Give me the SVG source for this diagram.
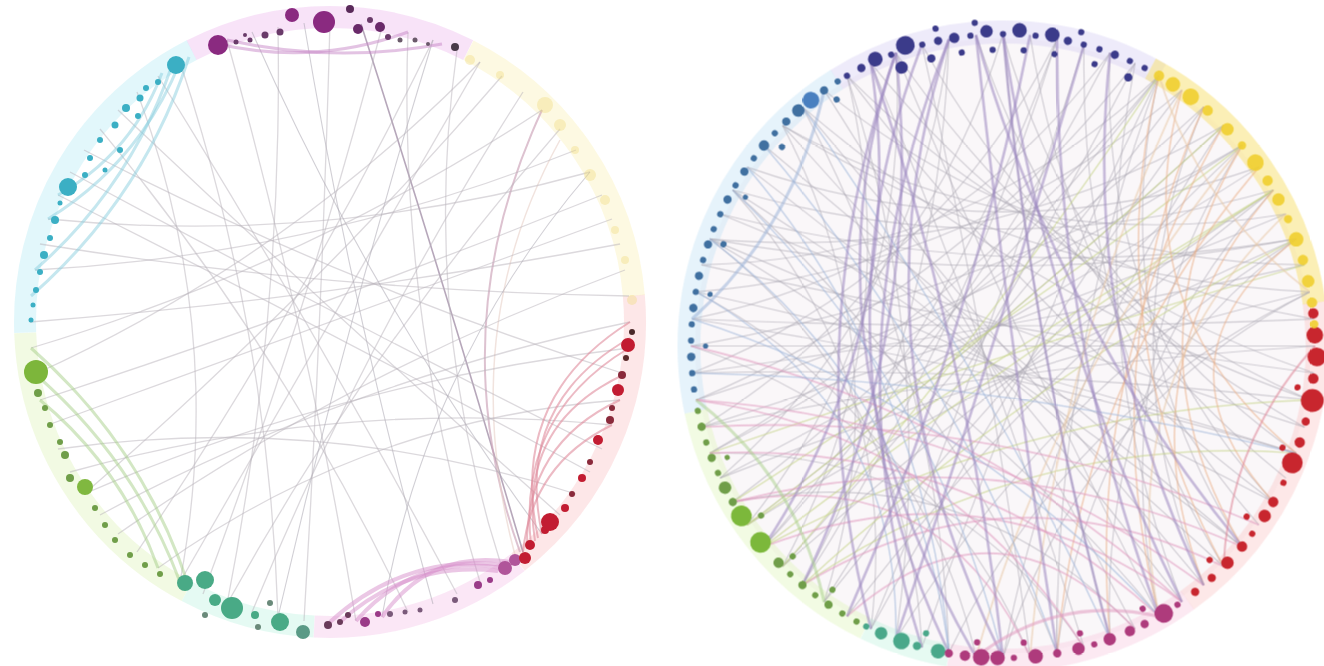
<svg xmlns="http://www.w3.org/2000/svg" width="1324" height="666" viewBox="0 0 1324 666">
<defs>
<style>
.h{fill:none;stroke-width:22;opacity:.32}
.e{fill:none;stroke:#aca7b2;stroke-width:1.1;opacity:.55}
.el{fill:none;stroke:#b9b4bc;stroke-width:1.3;opacity:.5}
.ep{fill:none;stroke:#9a86bf;stroke-width:2.6;opacity:.55}
.eg{fill:none;stroke:#c6d48a;stroke-width:1.4;opacity:.6}
.eo{fill:none;stroke:#eab08a;stroke-width:1.6;opacity:.55}
.ek{fill:none;stroke:#e09ac0;stroke-width:1.8;opacity:.55}
.eb{fill:none;stroke:#9db4d8;stroke-width:1.5;opacity:.55}
.er{fill:none;stroke:#e08c9c;stroke-width:2;opacity:.6}
.epk{fill:none;stroke:#d890cc;stroke-width:4;opacity:.5}
.ec{fill:none;stroke:#8ccfe0;stroke-width:3;opacity:.5}
.egr{fill:none;stroke:#a8d08a;stroke-width:3;opacity:.5}
.ept{fill:none;stroke:#c888c8;stroke-width:3;opacity:.5}
.ey{fill:none;stroke:#e8c8a8;stroke-width:1.8;opacity:.55}
</style>
<filter id="soft" x="-5%" y="-5%" width="110%" height="110%"><feGaussianBlur stdDeviation="0.6"/></filter>
</defs>
<rect width="1324" height="666" fill="#ffffff"/>
<g filter="url(#soft)">
<!-- LEFT DIAGRAM -->
<g id="left-halos" transform="translate(330,322)">
<circle class="h" r="305" stroke="#e9a8ea" transform="rotate(243)" stroke-dasharray="287 3000"/>
<circle class="h" r="305" stroke="#a6e6f2" transform="rotate(178)" stroke-dasharray="346 3000"/>
<circle class="h" r="305" stroke="#d6f0a8" transform="rotate(118)" stroke-dasharray="319 3000"/>
<circle class="h" r="305" stroke="#aeeeda" transform="rotate(93)" stroke-dasharray="133 3000"/>
<circle class="h" r="305" stroke="#f2b4e2" transform="rotate(52)" stroke-dasharray="218 3000"/>
<circle class="h" r="305" stroke="#f8b4b8" transform="rotate(-5)" stroke-dasharray="303 3000"/>
<circle class="h" r="305" stroke="#f8eca6" transform="rotate(297)" stroke-dasharray="309 3000"/>
</g>
<g id="left-connectors">
<path d="M361,24 Q440,270 523,552" style="fill:none;stroke:#9d8aa3;stroke-width:1.6;opacity:.75"/>
<path d="M542,110 Q440,330 520,552" style="fill:none;stroke:#cfa8bc;stroke-width:2;opacity:.7"/>
<path d="M560,140 Q455,330 515,555" style="fill:none;stroke:#e8d0c8;stroke-width:1.5;opacity:.6"/>
<path class="el" d="M180,62 Q269,333 278,617"/>
<path class="el" d="M137,92 Q227,331 180,582"/>
<path class="el" d="M227,40 Q307,327 356,621"/>
<path class="el" d="M48,219 Q323,246 590,172"/>
<path class="el" d="M48,425 Q330,322 612,219"/>
<path class="el" d="M70,472 Q337,398 612,425"/>
<path class="el" d="M100,515 Q351,380 630,322"/>
<path class="el" d="M35,374 Q286,260 480,62"/>
<path class="el" d="M180,582 Q330,322 480,62"/>
<path class="el" d="M227,604 Q368,349 560,129"/>
<path class="e" d="M278,617 Q345,326 433,40"/>
<path class="el" d="M278,27 Q283,318 227,604"/>
<path class="e" d="M304,23 Q353,317 433,604"/>
<path class="el" d="M408,32 Q398,313 480,582"/>
<path class="el" d="M433,40 Q303,306 137,552"/>
<path class="el" d="M523,92 Q364,340 252,612"/>
<path class="el" d="M58,195 Q326,329 590,472"/>
<path class="el" d="M84,150 Q345,286 625,374"/>
<path class="el" d="M118,110 Q335,316 560,515"/>
<path class="el" d="M118,534 Q355,370 625,270"/>
<path class="el" d="M158,568 Q365,419 620,400"/>
<path class="el" d="M30,322 Q327,299 620,244"/>
<path class="el" d="M40,244 Q333,291 629,296"/>
<path class="e" d="M590,172 Q424,366 382,617"/>
<path class="el" d="M330,22 Q322,322 304,621"/>
<path class="e" d="M252,32 Q370,299 542,534"/>
<path class="el" d="M502,76 Q308,300 84,494"/>
<path class="el" d="M602,195 Q325,307 40,400"/>
<path class="el" d="M100,129 Q284,351 408,612"/>
<path class="el" d="M70,172 Q334,315 602,449"/>
<path class="el" d="M35,270 Q315,255 576,150"/>
<path class="el" d="M58,449 Q322,412 576,494"/>
<path class="el" d="M158,76 Q316,330 457,594"/>
<path class="el" d="M382,27 Q307,315 203,594"/>
<path class="el" d="M457,50 Q420,314 502,568"/>
<path class="el" d="M31,348 Q304,266 542,110"/>
<path class="el" d="M84,494 Q346,381 629,348"/>
<path class="er" d="M629,348 Q517,415 531,545"/>
<path class="er" d="M625,374 Q517,424 535,541"/>
<path class="er" d="M630,322 Q508,398 538,538"/>
<path class="er" d="M620,400 Q525,444 527,548"/>
<path class="er" d="M612,425 Q532,464 523,552"/>
<path class="er" d="M630,338 Q514,404 542,534"/>
<path class="epk" d="M502,568 Q414,554 356,621"/>
<path class="epk" d="M511,562 Q429,549 382,617"/>
<path class="epk" d="M498,571 Q407,561 340,622"/>
<path class="epk" d="M506,565 Q405,553 330,622"/>
<path class="ec" d="M180,62 Q140,162 48,219"/>
<path class="ec" d="M171,68 Q130,187 35,270"/>
<path class="ec" d="M162,73 Q132,153 58,195"/>
<path class="ec" d="M189,57 Q143,198 31,296"/>
<path class="egr" d="M35,374 Q134,459 180,582"/>
<path class="egr" d="M40,400 Q122,468 158,568"/>
<path class="egr" d="M31,348 Q143,446 189,587"/>
<path class="ept" d="M218,44 Q315,66 408,32"/>
<path class="ept" d="M227,40 Q334,64 442,44"/>
</g>
<g id="left-yellow-nodes" fill="#f0dc80" opacity=".4">
<circle cx="470" cy="60" r="5"/><circle cx="500" cy="75" r="4"/><circle cx="545" cy="105" r="8"/><circle cx="560" cy="125" r="6"/><circle cx="575" cy="150" r="4"/><circle cx="590" cy="175" r="6"/><circle cx="605" cy="200" r="5"/><circle cx="615" cy="230" r="4"/><circle cx="625" cy="260" r="4"/><circle cx="632" cy="300" r="5"/>
</g>
<g id="left-purple-nodes" fill="#8a2a80">
<circle cx="218" cy="45" r="10"/><circle cx="236" cy="42" r="2.5" fill="#6a3a6a"/><circle cx="245" cy="35" r="2" fill="#6a3a6a"/><circle cx="250" cy="40" r="2.5" fill="#6a3a6a"/><circle cx="265" cy="35" r="3.5" fill="#6a3a6a"/><circle cx="280" cy="32" r="3.5" fill="#6a3a6a"/><circle cx="292" cy="15" r="7"/><circle cx="324" cy="22" r="11"/><circle cx="350" cy="9" r="4" fill="#5a2a5a"/><circle cx="358" cy="29" r="5" fill="#6a2a6a"/><circle cx="370" cy="20" r="3" fill="#6a3a6a"/><circle cx="380" cy="27" r="5" fill="#6a2a6a"/><circle cx="388" cy="37" r="3" fill="#6a3a6a"/><circle cx="400" cy="40" r="2.5" fill="#6a5a6a"/><circle cx="415" cy="40" r="2.5" fill="#6a5a6a"/><circle cx="428" cy="44" r="2" fill="#6a5a6a"/><circle cx="455" cy="47" r="4" fill="#4a3a4a"/>
</g>
<g id="left-cyan-nodes" fill="#3aafc4">
<circle cx="176" cy="65" r="9"/><circle cx="158" cy="82" r="3"/><circle cx="146" cy="88" r="3"/><circle cx="140" cy="98" r="3.5"/><circle cx="126" cy="108" r="4"/><circle cx="138" cy="116" r="3"/><circle cx="115" cy="125" r="3.5"/><circle cx="100" cy="140" r="3"/><circle cx="120" cy="150" r="3"/><circle cx="90" cy="158" r="3"/><circle cx="105" cy="170" r="2.5"/><circle cx="85" cy="175" r="3"/><circle cx="68" cy="187" r="9"/><circle cx="60" cy="203" r="2.5"/><circle cx="55" cy="220" r="4"/><circle cx="50" cy="238" r="3"/><circle cx="44" cy="255" r="4"/><circle cx="40" cy="272" r="3"/><circle cx="36" cy="290" r="3"/><circle cx="33" cy="305" r="2.5"/><circle cx="31" cy="320" r="2.5"/>
</g>
<g id="left-green-nodes" fill="#6f9e48">
<circle cx="36" cy="372" r="12" fill="#7db63a"/><circle cx="38" cy="393" r="4"/><circle cx="45" cy="408" r="3"/><circle cx="50" cy="425" r="3"/><circle cx="60" cy="442" r="3"/><circle cx="65" cy="455" r="4"/><circle cx="70" cy="478" r="4"/><circle cx="85" cy="487" r="8" fill="#80b840"/><circle cx="95" cy="508" r="3"/><circle cx="105" cy="525" r="3"/><circle cx="115" cy="540" r="3"/><circle cx="130" cy="555" r="3"/><circle cx="145" cy="565" r="3"/><circle cx="160" cy="574" r="3"/>
</g>
<g id="left-teal-nodes" fill="#4aaa86">
<circle cx="185" cy="583" r="8"/><circle cx="205" cy="580" r="9"/><circle cx="215" cy="600" r="6"/><circle cx="232" cy="608" r="11"/><circle cx="255" cy="615" r="4"/><circle cx="205" cy="615" r="3" fill="#6a8a7a"/><circle cx="270" cy="603" r="3" fill="#6a8a7a"/><circle cx="258" cy="627" r="3" fill="#6a8a7a"/><circle cx="280" cy="622" r="9"/><circle cx="303" cy="632" r="7" fill="#5a9a86"/>
</g>
<g id="left-pink-nodes" fill="#9a3a88">
<circle cx="328" cy="625" r="4" fill="#6a3a5a"/><circle cx="340" cy="622" r="3" fill="#6a3a5a"/><circle cx="348" cy="615" r="3" fill="#6a3a5a"/><circle cx="365" cy="622" r="5"/><circle cx="378" cy="614" r="3"/><circle cx="390" cy="614" r="3" fill="#7a5a7a"/><circle cx="405" cy="612" r="2.5" fill="#7a5a7a"/><circle cx="420" cy="610" r="2.5" fill="#7a5a7a"/><circle cx="455" cy="600" r="3" fill="#7a5a7a"/><circle cx="478" cy="585" r="4"/><circle cx="490" cy="580" r="3"/><circle cx="505" cy="568" r="7" fill="#b0559a"/><circle cx="515" cy="560" r="6" fill="#b0559a"/>
</g>
<g id="left-red-nodes" fill="#c21f30">
<circle cx="525" cy="558" r="6"/><circle cx="530" cy="545" r="5"/><circle cx="545" cy="530" r="4"/><circle cx="550" cy="522" r="9"/><circle cx="565" cy="508" r="4"/><circle cx="572" cy="494" r="3" fill="#8a2a3a"/><circle cx="582" cy="478" r="4"/><circle cx="590" cy="462" r="3" fill="#8a2a3a"/><circle cx="598" cy="440" r="5"/><circle cx="610" cy="420" r="4" fill="#8a2a3a"/><circle cx="612" cy="408" r="3" fill="#8a2a3a"/><circle cx="618" cy="390" r="6"/><circle cx="622" cy="375" r="4" fill="#8a2a3a"/><circle cx="626" cy="358" r="3" fill="#5a2a2a"/><circle cx="628" cy="345" r="7"/><circle cx="632" cy="332" r="3" fill="#4a2a2a"/>
</g>

<!-- RIGHT DIAGRAM -->
<g id="right" transform="translate(1003,346) scale(1.04)">
<circle r="296" fill="#f6f2f5" opacity=".6"/>
<g id="right-halos">
<circle class="h" r="302" stroke="#c9c2f0" transform="rotate(238)" stroke-dasharray="327 3000"/>
<circle class="h" r="302" stroke="#b2daf2" transform="rotate(168)" stroke-dasharray="369 3000"/>
<circle class="h" r="302" stroke="#d8f2a8" transform="rotate(116)" stroke-dasharray="274 3000"/>
<circle class="h" r="302" stroke="#b0eed8" transform="rotate(100)" stroke-dasharray="84 3000"/>
<circle class="h" r="302" stroke="#f6bad8" transform="rotate(54)" stroke-dasharray="242 3000"/>
<circle class="h" r="302" stroke="#f8b6b6" transform="rotate(-8)" stroke-dasharray="327 3000"/>
<circle class="h" r="302" stroke="#f8e27a" transform="rotate(298)" stroke-dasharray="285 3000" style="opacity:.55"/>
</g>
<g id="right-connectors">
<path class="e" d="M-300,0 Q0,0 300,0"/>
<path class="e" d="M-295,-52 Q-3,13 282,103"/>
<path class="e" d="M-282,-103 Q0,-51 282,-103"/>
<path class="e" d="M-260,-150 Q0,-75 260,-150"/>
<path class="e" d="M-230,-193 Q0,0 230,193"/>
<path class="e" d="M-193,-230 Q25,-44 295,52"/>
<path class="e" d="M-150,-260 Q27,-27 260,150"/>
<path class="e" d="M-295,52 Q-16,-35 230,-193"/>
<path class="e" d="M-282,103 Q-22,-32 193,-230"/>
<path class="e" d="M-260,150 Q-27,-27 150,-260"/>
<path class="e" d="M-230,193 Q-32,-22 103,-282"/>
<path class="e" d="M-193,230 Q-35,-16 52,-295"/>
<path class="e" d="M-150,260 Q27,27 260,-150"/>
<path class="e" d="M-103,282 Q45,45 282,-103"/>
<path class="e" d="M-52,295 Q61,61 295,-52"/>
<path class="e" d="M0,300 Q53,22 212,-212"/>
<path class="e" d="M52,295 Q50,9 150,-260"/>
<path class="e" d="M103,282 Q26,-4 0,-300"/>
<path class="e" d="M150,260 Q12,-5 -103,-282"/>
<path class="e" d="M193,230 Q0,0 -193,-230"/>
<path class="e" d="M230,193 Q-7,11 -260,-150"/>
<path class="e" d="M260,150 Q-5,12 -282,-103"/>
<path class="e" d="M282,103 Q-4,19 -299,-26"/>
<path class="e" d="M295,52 Q-1,19 -299,26"/>
<path class="e" d="M300,0 Q2,19 -290,78"/>
<path class="e" d="M295,-52 Q6,19 -272,127"/>
<path class="e" d="M282,-103 Q9,17 -246,172"/>
<path class="e" d="M260,-150 Q12,15 -212,212"/>
<path class="e" d="M230,-193 Q14,13 -172,246"/>
<path class="e" d="M193,-230 Q16,10 -127,272"/>
<path class="e" d="M150,-260 Q18,7 -78,290"/>
<path class="e" d="M127,-272 Q-42,-55 -295,52"/>
<path class="e" d="M172,-246 Q-31,-74 -295,-52"/>
<path class="e" d="M212,-212 Q-17,-79 -282,-103"/>
<path class="e" d="M246,-172 Q0,-86 -246,-172"/>
<path class="e" d="M272,-127 Q15,-85 -212,-212"/>
<path class="e" d="M290,-78 Q29,-81 -172,-246"/>
<path class="e" d="M299,-26 Q37,-71 -150,-260"/>
<path class="e" d="M299,26 Q43,-61 -127,-272"/>
<path class="e" d="M290,78 Q53,-53 -78,-290"/>
<path class="e" d="M272,127 Q61,-43 -26,-299"/>
<path class="e" d="M246,172 Q68,-32 26,-299"/>
<path class="e" d="M212,212 Q72,-19 78,-290"/>
<path class="e" d="M172,246 Q75,-6 127,-272"/>
<path class="e" d="M127,272 Q-33,105 -260,150"/>
<path class="e" d="M78,290 Q-51,98 -282,103"/>
<path class="e" d="M26,299 Q-68,75 -300,0"/>
<path class="e" d="M-26,299 Q-80,62 -295,-52"/>
<path class="e" d="M-78,290 Q-90,47 -282,-103"/>
<path class="e" d="M-127,272 Q-97,30 -260,-150"/>
<path class="e" d="M-172,246 Q-96,8 -212,-212"/>
<path class="e" d="M-212,212 Q-90,-12 -150,-260"/>
<path class="e" d="M-246,172 Q-87,-27 -103,-282"/>
<path class="e" d="M-272,127 Q-81,-42 -52,-295"/>
<path class="e" d="M-290,78 Q-72,-55 0,-300"/>
<path class="e" d="M-299,26 Q-62,-67 52,-295"/>
<path class="e" d="M-299,-26 Q-49,-77 103,-282"/>
<path class="e" d="M-290,-78 Q-35,-84 150,-260"/>
<path class="e" d="M-299,-26 Q0,-13 299,-26"/>
<path class="e" d="M-290,-78 Q2,-13 299,26"/>
<path class="e" d="M-272,-127 Q4,-12 290,78"/>
<path class="e" d="M-246,-172 Q-8,10 212,212"/>
<path class="e" d="M-212,-212 Q-10,8 172,246"/>
<path class="e" d="M-172,-246 Q-11,6 127,272"/>
<path class="e" d="M-127,-272 Q-12,4 78,290"/>
<path class="e" d="M-78,-290 Q-13,2 26,299"/>
<path class="e" d="M78,-290 Q-12,-4 -127,272"/>
<path class="e" d="M127,-272 Q-11,-6 -172,246"/>
<path class="e" d="M172,-246 Q-10,-8 -212,212"/>
<path class="e" d="M212,-212 Q-8,-10 -246,172"/>
<path class="e" d="M246,-172 Q-6,-11 -272,127"/>
<path class="e" d="M272,-127 Q-4,-12 -290,78"/>
<path class="e" d="M290,-78 Q-2,-13 -299,26"/>
<path class="e" d="M-282,-103 Q-33,39 150,260"/>
<path class="e" d="M-260,-150 Q-52,36 52,295"/>
<path class="e" d="M-193,-230 Q-61,16 -52,295"/>
<path class="e" d="M-150,-260 Q-63,5 -103,282"/>
<path class="e" d="M-52,-295 Q-61,-16 -193,230"/>
<path class="e" d="M52,-295 Q-44,-25 -230,193"/>
<path class="e" d="M150,-260 Q-33,-39 -282,103"/>
<path class="e" d="M230,-193 Q-17,-48 -300,0"/>
<path class="e" d="M282,-103 Q2,-57 -272,-127"/>
<path class="e" d="M295,-52 Q21,-66 -212,-212"/>
<path class="e" d="M295,52 Q48,-57 -103,-282"/>
<path class="e" d="M282,103 Q70,-49 0,-300"/>
<path class="e" d="M260,150 Q91,-33 103,-282"/>
<path class="e" d="M230,193 Q95,-17 150,-260"/>
<path class="e" d="M193,230 Q96,0 193,-230"/>
<path class="e" d="M150,260 Q95,17 230,-193"/>
<path class="e" d="M103,282 Q91,33 260,-150"/>
<path class="e" d="M52,295 Q83,48 282,-103"/>
<path class="e" d="M0,300 Q74,62 295,-52"/>
<path class="eg" d="M-260,150 Q-7,-11 230,-193"/>
<path class="eg" d="M-230,193 Q7,11 260,-150"/>
<path class="eg" d="M-193,230 Q22,32 282,-103"/>
<path class="eg" d="M-282,103 Q2,6 290,-78"/>
<path class="eg" d="M-246,172 Q-8,-10 212,-212"/>
<path class="eg" d="M-212,212 Q-15,-12 150,-260"/>
<path class="eg" d="M-230,193 Q16,61 295,52"/>
<path class="eg" d="M-193,230 Q22,83 282,103"/>
<path class="eg" d="M-246,172 Q3,5 260,-150"/>
<path class="eo" d="M230,-193 Q115,0 230,193"/>
<path class="eo" d="M260,-150 Q113,20 193,230"/>
<path class="eo" d="M193,-230 Q86,7 150,260"/>
<path class="eo" d="M282,-103 Q135,12 260,150"/>
<path class="eo" d="M150,-260 Q90,-12 212,212"/>
<path class="eo" d="M212,-212 Q79,17 103,282"/>
<path class="eo" d="M246,-172 Q74,31 52,295"/>
<path class="eo" d="M172,-246 Q113,-36 282,103"/>
<path class="ey" d="M172,-246 Q49,13 26,299"/>
<path class="ey" d="M230,-193 Q51,26 -26,299"/>
<path class="ey" d="M272,-127 Q105,33 150,260"/>
<path class="ek" d="M150,260 Q-33,91 -282,103"/>
<path class="ek" d="M193,230 Q-25,70 -295,52"/>
<path class="ek" d="M172,246 Q-14,110 -230,193"/>
<path class="ek" d="M230,193 Q-7,86 -260,150"/>
<path class="ek" d="M127,272 Q-6,133 -150,260"/>
<path class="ek" d="M212,212 Q5,110 -193,230"/>
<path class="ek" d="M78,290 Q-54,85 -295,52"/>
<path class="ek" d="M26,299 Q-58,112 -260,150"/>
<path class="ek" d="M172,246 Q-32,61 -300,0"/>
<path class="ek" d="M246,172 Q-11,62 -290,78"/>
<path class="eb" d="M-282,-103 Q-83,48 -52,295"/>
<path class="eb" d="M-260,-150 Q-65,37 0,300"/>
<path class="eb" d="M-295,-52 Q-99,57 -103,282"/>
<path class="eb" d="M-230,-193 Q-44,25 52,295"/>
<path class="eb" d="M-193,-230 Q-22,13 103,282"/>
<path class="eb" d="M-299,-26 Q-37,58 150,260"/>
<path class="eb" d="M-246,-172 Q-74,31 -52,295"/>
<path class="eb" d="M-299,26 Q-4,32 282,103"/>
<path class="ep" d="M-103,-282 Q-200,0 -26,299"/>
<path class="ep" d="M-78,-290 Q-190,5 -52,295"/>
<path class="ep" d="M-127,-272 Q-32,7 0,300"/>
<path class="ep" d="M-52,-295 Q-170,0 -78,290"/>
<path class="ep" d="M-52,-295 Q-150,0 0,300"/>
<path class="ep" d="M-103,-282 Q-200,-5 -127,272"/>
<path class="ep" d="M-26,-299 Q6,-1 52,295"/>
<path class="ep" d="M0,-300 Q26,-4 103,282"/>
<path class="ep" d="M0,-300 Q43,-13 172,246"/>
<path class="ep" d="M-26,-299 Q51,-26 230,193"/>
<path class="ep" d="M52,-295 Q50,-9 150,260"/>
<path class="ep" d="M78,-290 Q-6,-2 -103,282"/>
<path class="ep" d="M103,-282 Q74,-13 193,230"/>
<path class="ep" d="M26,-299 Q-31,-10 -150,260"/>
<path class="ep" d="M-103,-282 Q-74,-13 -193,230"/>
<path class="ep" d="M-127,-272 Q-89,-20 -230,193"/>
<path class="eb" d="M-172,-246 Q-200,-116 -299,-26" style="stroke-width:3"/>
<path class="egr" d="M-295,52 Q-198,127 -172,246"/>
<path class="ek" d="M150,260 Q53,238 -26,299" style="stroke-width:3"/>
<path class="er" d="M300,0 Q218,90 212,212"/>
<path class="ey" d="M150,-260 Q189,-133 295,-52"/>
</g>
<g id="right-darkblue-nodes" fill="#3b3a8a">
<circle transform="rotate(240)" cx="300" r="3"/><circle transform="rotate(243)" cx="300" r="4"/><circle transform="rotate(246)" cx="302" r="7"/><circle transform="rotate(249)" cx="300" r="3"/><circle transform="rotate(252)" cx="304" r="9"/><circle transform="rotate(255)" cx="300" r="3"/><circle transform="rotate(258)" cx="300" r="4"/><circle transform="rotate(261)" cx="300" r="5"/><circle transform="rotate(264)" cx="300" r="3"/><circle transform="rotate(267)" cx="303" r="6"/><circle transform="rotate(270)" cx="300" r="3"/><circle transform="rotate(273)" cx="304" r="7"/><circle transform="rotate(276)" cx="300" r="3"/><circle transform="rotate(279)" cx="303" r="7"/><circle transform="rotate(282)" cx="300" r="4"/><circle transform="rotate(285)" cx="300" r="3"/><circle transform="rotate(288)" cx="300" r="3"/><circle transform="rotate(291)" cx="300" r="4"/><circle transform="rotate(294)" cx="300" r="3"/><circle transform="rotate(297)" cx="300" r="3"/>
<circle transform="rotate(250)" cx="285" r="6"/><circle transform="rotate(256)" cx="285" r="4"/><circle transform="rotate(262)" cx="285" r="3"/><circle transform="rotate(268)" cx="285" r="3"/><circle transform="rotate(274)" cx="285" r="3"/><circle transform="rotate(280)" cx="285" r="3"/><circle transform="rotate(288)" cx="285" r="3"/><circle transform="rotate(295)" cx="285" r="4"/>
<circle transform="rotate(258)" cx="312" r="3"/><circle transform="rotate(265)" cx="312" r="3"/><circle transform="rotate(284)" cx="311" r="3"/>
</g>
<g id="right-blue-nodes" fill="#3f6fa0">
<circle transform="rotate(172)" cx="300" r="3"/><circle transform="rotate(175)" cx="300" r="3"/><circle transform="rotate(178)" cx="300" r="4"/><circle transform="rotate(181)" cx="300" r="3"/><circle transform="rotate(184)" cx="300" r="3"/><circle transform="rotate(187)" cx="300" r="4"/><circle transform="rotate(190)" cx="300" r="3"/><circle transform="rotate(193)" cx="300" r="4"/><circle transform="rotate(196)" cx="300" r="3"/><circle transform="rotate(199)" cx="300" r="4"/><circle transform="rotate(202)" cx="300" r="3"/><circle transform="rotate(205)" cx="300" r="3"/><circle transform="rotate(208)" cx="300" r="4"/><circle transform="rotate(211)" cx="300" r="3"/><circle transform="rotate(214)" cx="300" r="4"/><circle transform="rotate(217)" cx="300" r="3"/><circle transform="rotate(220)" cx="300" r="5"/><circle transform="rotate(223)" cx="300" r="3"/><circle transform="rotate(226)" cx="300" r="4"/><circle transform="rotate(229)" cx="300" r="6"/><circle transform="rotate(232)" cx="300" r="8" fill="#4a80c0"/><circle transform="rotate(235)" cx="300" r="4"/><circle transform="rotate(238)" cx="300" r="3"/>
<circle transform="rotate(180)" cx="286" r="2.5"/><circle transform="rotate(190)" cx="286" r="2.5"/><circle transform="rotate(200)" cx="286" r="3"/><circle transform="rotate(210)" cx="286" r="2.5"/><circle transform="rotate(222)" cx="286" r="3"/><circle transform="rotate(236)" cx="286" r="3"/>
</g>
<g id="right-green-nodes" fill="#6f9e48">
<circle transform="rotate(118)" cx="300" r="3"/><circle transform="rotate(121)" cx="300" r="3"/><circle transform="rotate(124)" cx="300" r="4"/><circle transform="rotate(127)" cx="300" r="3"/><circle transform="rotate(130)" cx="300" r="4"/><circle transform="rotate(133)" cx="300" r="3"/><circle transform="rotate(136)" cx="300" r="5"/><circle transform="rotate(141)" cx="300" r="10" fill="#7cb83a"/><circle transform="rotate(147)" cx="300" r="10" fill="#7cb83a"/><circle transform="rotate(150)" cx="300" r="4"/><circle transform="rotate(153)" cx="300" r="6"/><circle transform="rotate(156)" cx="300" r="3"/><circle transform="rotate(159)" cx="300" r="4"/><circle transform="rotate(162)" cx="300" r="3"/><circle transform="rotate(165)" cx="300" r="4"/><circle transform="rotate(168)" cx="300" r="3"/>
<circle transform="rotate(125)" cx="286" r="3"/><circle transform="rotate(135)" cx="286" r="3"/><circle transform="rotate(145)" cx="284" r="3"/><circle transform="rotate(158)" cx="286" r="2.5"/>
</g>
<g id="right-teal-nodes" fill="#4aa88a">
<circle transform="rotate(102)" cx="300" r="7"/><circle transform="rotate(106)" cx="300" r="4"/><circle transform="rotate(109)" cx="300" r="8"/><circle transform="rotate(113)" cx="300" r="6"/><circle transform="rotate(116)" cx="300" r="3"/><circle transform="rotate(105)" cx="286" r="3"/>
</g>
<g id="right-pink-nodes" fill="#ae3a7c">
<circle transform="rotate(56)" cx="300" r="3"/><circle transform="rotate(59)" cx="300" r="9"/><circle transform="rotate(63)" cx="300" r="4"/><circle transform="rotate(66)" cx="300" r="5"/><circle transform="rotate(70)" cx="300" r="6"/><circle transform="rotate(73)" cx="300" r="3"/><circle transform="rotate(76)" cx="300" r="6"/><circle transform="rotate(80)" cx="300" r="4"/><circle transform="rotate(84)" cx="300" r="7"/><circle transform="rotate(88)" cx="300" r="3"/><circle transform="rotate(91)" cx="300" r="7"/><circle transform="rotate(94)" cx="300" r="8"/><circle transform="rotate(97)" cx="300" r="5"/><circle transform="rotate(100)" cx="300" r="4"/>
<circle transform="rotate(62)" cx="286" r="3"/><circle transform="rotate(75)" cx="286" r="3"/><circle transform="rotate(86)" cx="286" r="3"/><circle transform="rotate(95)" cx="286" r="3"/>
</g>
<g id="right-red-nodes" fill="#c8262e">
<circle transform="rotate(-6)" cx="300" r="5"/><circle transform="rotate(-2)" cx="300" r="8"/><circle transform="rotate(2)" cx="302" r="9"/><circle transform="rotate(6)" cx="300" r="5"/><circle transform="rotate(10)" cx="302" r="11"/><circle transform="rotate(14)" cx="300" r="4"/><circle transform="rotate(18)" cx="300" r="5"/><circle transform="rotate(22)" cx="300" r="10"/><circle transform="rotate(26)" cx="300" r="3"/><circle transform="rotate(30)" cx="300" r="5"/><circle transform="rotate(33)" cx="300" r="6"/><circle transform="rotate(37)" cx="300" r="3"/><circle transform="rotate(40)" cx="300" r="5"/><circle transform="rotate(44)" cx="300" r="6"/><circle transform="rotate(48)" cx="300" r="4"/><circle transform="rotate(52)" cx="300" r="4"/>
<circle transform="rotate(8)" cx="286" r="3"/><circle transform="rotate(20)" cx="286" r="3"/><circle transform="rotate(35)" cx="286" r="3"/><circle transform="rotate(46)" cx="286" r="3"/>
</g>
<g id="right-yellow-nodes" fill="#f0cf2e" opacity=".9">
<circle transform="rotate(300)" cx="300" r="5"/><circle transform="rotate(303)" cx="300" r="7"/><circle transform="rotate(307)" cx="300" r="8"/><circle transform="rotate(311)" cx="300" r="5"/><circle transform="rotate(316)" cx="300" r="6"/><circle transform="rotate(320)" cx="300" r="4"/><circle transform="rotate(324)" cx="300" r="8"/><circle transform="rotate(328)" cx="300" r="5"/><circle transform="rotate(332)" cx="300" r="6"/><circle transform="rotate(336)" cx="300" r="4"/><circle transform="rotate(340)" cx="300" r="7"/><circle transform="rotate(344)" cx="300" r="5"/><circle transform="rotate(348)" cx="300" r="6"/><circle transform="rotate(352)" cx="300" r="5"/><circle transform="rotate(356)" cx="300" r="4"/>
</g>
</g>
</g>
</svg>
